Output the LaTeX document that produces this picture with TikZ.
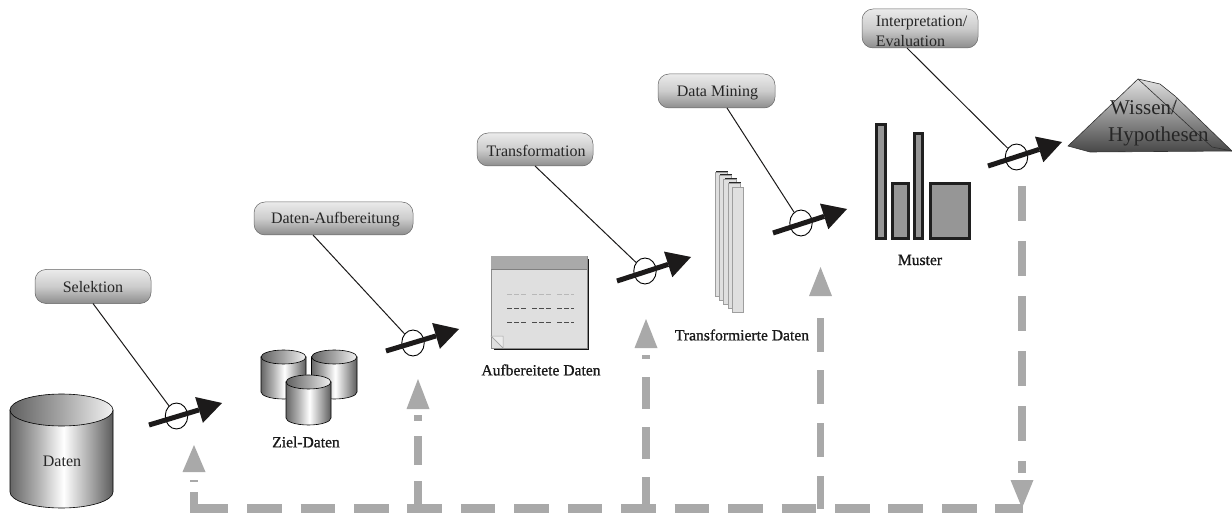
\documentclass[tikz,border=0pt]{standalone}
\usepackage{fontspec}
\setmainfont{Liberation Serif}
\newfontfamily\lblfont[FakeBold=1]{Liberation Serif}
\usetikzlibrary{arrows.meta,shapes.geometric}
\definecolor{dashgray}{HTML}{A9A9A9}
\definecolor{barfill}{HTML}{969696}
\definecolor{pagefill}{HTML}{DFDFDF}
\definecolor{inkdark}{HTML}{1C1A1A}
\pgfdeclarehorizontalshading{cylbody}{100bp}{rgb(0bp)=(.40,.40,.40); rgb(25bp)=(.40,.40,.40); rgb(38bp)=(.68,.68,.68); rgb(51bp)=(1,1,1); rgb(64bp)=(.66,.66,.66); rgb(75bp)=(.36,.36,.36); rgb(100bp)=(.36,.36,.36)}
\pgfdeclarehorizontalshading{cyltop}{100bp}{rgb(0bp)=(.38,.38,.38); rgb(25bp)=(.38,.38,.38); rgb(50bp)=(.65,.65,.65); rgb(75bp)=(.95,.95,.95); rgb(100bp)=(.95,.95,.95)}
\tikzset{
  toolbox/.style={draw=black!60, line width=.5pt, rounded corners=11pt, top color=white!92!black, bottom color=black!45, middle color=black!20,
    inner sep=0pt, text=black!85, text height=11pt, text depth=0pt, font=\fontsize{16}{20}\selectfont},
  filmlabel/.style={inner sep=0pt, text=black!90, font=\lblfont\fontsize{15.6}{18}\selectfont},
  ring/.style={draw=black, line width=.9pt, ellipse, inner sep=0pt, minimum width=22.5pt, minimum height=26pt},
  pinline/.style={draw=inkdark, line width=1pt},
  flowarrow/.style={draw=inkdark, line width=5pt, -{Triangle[length=24pt,width=27pt,line width=0pt,fill=inkdark]}},
  feedback/.style={draw=dashgray, line width=7.5pt},
  backhead/.style={-{Triangle[length=#1,width=23pt,line width=0pt,fill=dashgray]}},
  barbox/.style={draw=black!88, line width=3pt, fill=barfill},
  sheet/.style={draw=black!38, line width=.7pt, fill=pagefill}
}
\newcommand{\cylshape}[6]{% x1 x2 ytop-centre ybottom-centre ry name
  \pgfmathsetmacro{\xm}{(#1+#2)/2}
  \pgfmathsetmacro{\rx}{(#2-#1)/2}
  \pgfmathsetmacro{\ka}{\rx*.5523}
  \pgfmathsetmacro{\kb}{#5*.5523}
  \path[draw=black, line width=.6pt, shading=cylbody]
    (#1,#3) -- (#1,#4) .. controls (#1,#4+\kb) and (\xm-\ka,#4+#5) .. (\xm,#4+#5)
    .. controls (\xm+\ka,#4+#5) and (#2,#4+\kb) .. (#2,#4) -- (#2,#3) -- cycle;
  \path[draw=black, line width=.6pt, shading=cyltop]
    (\xm,#3) ellipse [x radius=\rx pt, y radius=#5 pt];
  \coordinate (#6) at (\xm,#3);
}
\begin{document}
\begin{tikzpicture}[x=1pt,y=-1pt]
\useasboundingbox (0,0) rectangle (1232,513);

% --- feedback connectors
\coordinate (fbA) at (193.6,508.5);
\coordinate (fbB) at (1023,508.5);
\coordinate (v1a) at (194,513);   \coordinate (v1b) at (194,445);
\coordinate (v2a) at (418,504);   \coordinate (v2b) at (418,379);
\coordinate (v3a) at (646,504);   \coordinate (v3b) at (646,319);
\coordinate (v4a) at (820.5,509); \coordinate (v4b) at (820.5,267);
\coordinate (v5a) at (1022,186);  \coordinate (v5b) at (1022,508);
\draw[feedback, line width=9pt, dash pattern=on 34.6pt off 18.85pt] (fbA) -- (fbB);
\draw[feedback, line width=8pt, backhead=27pt, dash pattern=on 21pt off 10pt on 2pt off 30pt] (v1a) -- (v1b);
\draw[feedback, backhead=30pt, dash pattern=on 23pt off 16pt on 29pt off 15pt on 6pt off 20pt] (v2a) -- (v2b);
\draw[feedback, backhead=29pt, dash pattern=on 27pt off 18pt on 32pt off 18pt on 32pt off 18pt on 4pt off 20pt] (v3a) -- (v3b);
\draw[feedback, backhead=29pt, dash pattern=on 33pt off 19pt on 34pt off 19pt on 34pt off 18pt on 34pt off 30pt] (v4a) -- (v4b);
\draw[feedback, backhead=28pt, dash pattern=on 35pt off 20pt on 35pt off 20pt on 35pt off 20pt on 35pt off 20pt on 35pt off 20pt on 12pt off 30pt] (v5a) -- (v5b);

% --- Daten
\cylshape{10}{113}{410}{492}{16}{cylA}
\node[inner sep=0pt, text=black!85, font=\fontsize{16}{18}\selectfont] (daten) at (62,461) {Daten};

% --- Ziel-Daten
\cylshape{261}{306}{357}{392}{7}{cylB}
\cylshape{311.5}{357}{357}{392}{7}{cylC}
\cylshape{286}{331}{382}{418}{7}{cylD}
\node[filmlabel] (ziel) at (306,442) {Ziel-Daten};

% --- Aufbereitete Daten
\fill[black!92] (493.5,259) rectangle (589,350);
\draw[draw=black!45, line width=.6pt, fill=pagefill] (491,256) rectangle (587,348);
\fill[dashgray] (491,256) rectangle (587,269);
\draw[black!50, line width=.8pt] (491,269) -- (587,269);
\draw[black!35, line width=.5pt, fill=black!8] (491,336) -- (503,336) -- (503,348) -- cycle;
\draw[black!35, line width=.5pt] (491,336) -- (503,348);
\foreach \yy/\cc in {294/black!28,308/black!70,322/black!70}
  \draw[\cc, line width=.7pt, dash pattern=on 4.5pt off 2.5pt] (507,\yy) -- (527,\yy) (532,\yy) -- (552,\yy) (557,\yy) -- (574,\yy);
\node[filmlabel] (aufb) at (541,370) {Aufbereitete Daten};

% --- Transformierte Daten
\foreach \xx/\yt/\yb in {715/172/296,719/175/300,723.5/179/304,728/183/308}{
  \fill[black!85] (\xx+1,\yt-.8) rectangle (\xx+13,\yb+1.2);
  \draw[sheet] (\xx,\yt) rectangle (\xx+12.5,\yb);
}
\draw[sheet] (732,187) rectangle (743.5,312);
\node[filmlabel] (trans) at (742,335) {Transformierte Daten};

% --- Muster
\draw[barbox] (876.5,124.5) rectangle (885.5,238.5);
\draw[barbox] (892.5,183.5) rectangle (908.5,238.5);
\draw[barbox] (914.5,133.5) rectangle (922.5,238.5);
\draw[barbox] (930.5,183.5) rectangle (969.5,238.5);
\node[filmlabel] (muster) at (920,260) {Muster};

% --- Wissen / Hypothesen
\path[draw=black!80, line width=.6pt, top color=black!12, bottom color=black!72]
  (1068,146) -- (1138,79) -- (1160,84) -- (1175,96) -- (1232,151) -- (1090,152) -- cycle;
\draw[black!80, line width=.6pt] (1138,79) -- (1212,147) -- (1232,151);
\draw[black!60, line width=.5pt] (1177,98) -- (1170,113);
\node[inner sep=0pt, anchor=west, align=left, text=black!85, font=\fontsize{21}{27}\selectfont] (wissen) at (1108,123) {\hspace*{2pt}Wissen/\\Hypothesen};

% --- process nodes
\node[toolbox, minimum width=116pt, minimum height=34pt] (sel) at (93,286.5) {Selektion};
\node[toolbox, minimum width=159pt, minimum height=33pt] (auf) at (333.5,218.5) {\hspace*{4pt}Daten-Aufbereitung};
\node[toolbox, minimum width=116pt, minimum height=33pt, text height=14pt] (tra) at (535,149.5) {\hspace*{2pt}Transformation};
\node[toolbox, minimum width=117pt, minimum height=34pt] (min) at (716.5,91) {\hspace*{2pt}Data Mining};
\node[toolbox, minimum width=116pt, minimum height=39pt, align=left, text height=36pt] (int) at (920,28.5) {\hspace*{3pt}Interpretation/\\\hspace*{3pt}Evaluation};

% --- rings
\node[ring] (r1) at (176.5,416) {};
\node[ring] (r2) at (413,343) {};
\node[ring] (r3) at (645,271) {};
\node[ring] (r4) at (801,223) {};
\node[ring] (r5) at (1016.5,157) {};

% --- pin lines
\coordinate (p1) at (93,303.5);
\coordinate (p2) at (313,235);
\coordinate (p3) at (535,166);
\coordinate (p4) at (727,108);
\coordinate (p5) at (907,48);
\draw[pinline] (p1) -- (r1);
\draw[pinline] (p2) -- (r2);
\draw[pinline] (p3) -- (r3);
\draw[pinline] (p4) -- (r4);
\draw[pinline] (p5) -- (r5);

% --- flow arrows
\coordinate (a1) at (149,425);  \coordinate (b1) at (222,403);
\coordinate (a2) at (386,351);  \coordinate (b2) at (459,329);
\coordinate (a3) at (617,281);  \coordinate (b3) at (691,257);
\coordinate (a4) at (773,233);  \coordinate (b4) at (847,209);
\coordinate (a5) at (988,166);  \coordinate (b5) at (1062,142);
\draw[flowarrow] (a1) -- (b1);
\draw[flowarrow] (a2) -- (b2);
\draw[flowarrow] (a3) -- (b3);
\draw[flowarrow] (a4) -- (b4);
\draw[flowarrow] (a5) -- (b5);
\end{tikzpicture}
\end{document}
